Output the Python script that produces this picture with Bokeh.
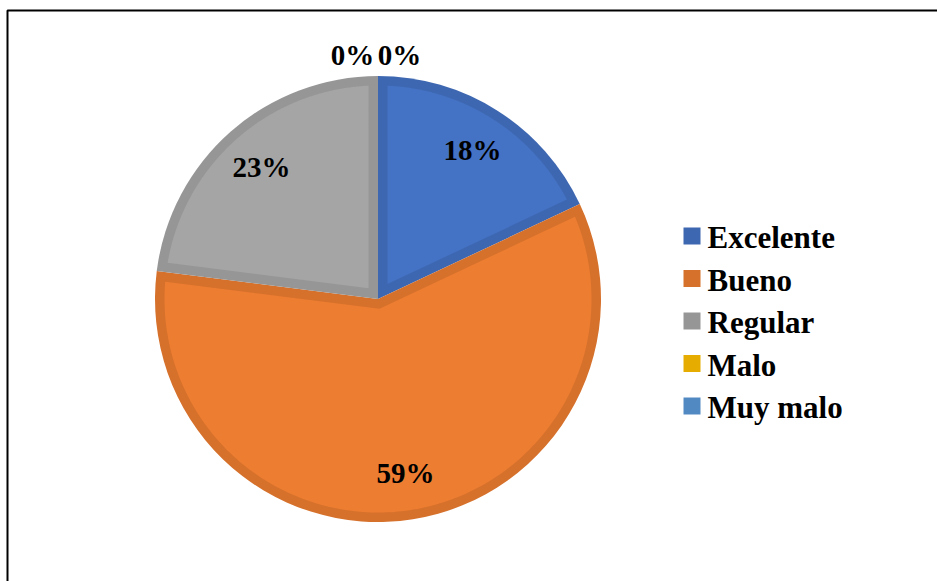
import numpy as np
from bokeh.plotting import figure
from bokeh.models import ColumnDataSource, Range1d, BoxAnnotation
from bokeh.core.properties import value
from bokeh.embed import file_html
from bokeh.resources import INLINE

# ---- data ----
categories = ["Excelente", "Bueno", "Regular", "Malo", "Muy malo"]
shares = [0.18, 0.59, 0.23, 0.0, 0.0]
labels = ["18%", "59%", "23%", "0%", "0%"]
fill_colors = ["#4472C4", "#ED7D31", "#A5A5A5", "#FFC000", "#5B9BD5"]
edge_colors = ["#3E67B1", "#D6712C", "#969696", "#E6AD00", "#5189C2"]

# ---- layout (pixels) ----
W, H = 937, 581
CX, CY = 377.5, H - 298.5
R = 223.0
BAND = 9.5
FONT = "Liberation Serif"

p = figure(width=W, height=H, output_backend="svg", toolbar_location=None,
           x_range=Range1d(0, W), y_range=Range1d(0, H),
           x_axis_location=None, y_axis_location=None, min_border=0,
           outline_line_color=None)
p.grid.visible = False
p.background_fill_color = "white"
p.border_fill_color = "white"

shares_a = np.array(shares, dtype=float)
cum = np.concatenate([[0.0], np.cumsum(shares_a)])
start = np.pi / 2 - 2 * np.pi * cum[:-1]
end = np.pi / 2 - 2 * np.pi * cum[1:]
nz = shares_a > 0

# outer (darker) wedges
wsrc = ColumnDataSource(dict(
    start=start[nz], end=end[nz],
    color=[c for c, k in zip(edge_colors, nz) if k],
))
p.wedge(x=CX, y=CY, radius=R, start_angle="start", end_angle="end",
        direction="clock", source=wsrc, fill_color="color", line_color=None)

# inner (lighter) fills, inset by the band width
xs, ys, cols = [], [], []
for a0, a1, c, k in zip(start, end, fill_colors, nz):
    if not k:
        continue
    sweep = a0 - a1
    h = sweep / 2
    bis = a0 - h
    d = BAND / np.sin(h)
    r_in = R - BAND
    delta = np.arcsin(BAND / r_in)
    arc = np.linspace(a0 - delta, a1 + delta, 200)
    px = [CX + d * np.cos(bis)] + list(CX + r_in * np.cos(arc))
    py = [CY + d * np.sin(bis)] + list(CY + r_in * np.sin(arc))
    xs.append(px)
    ys.append(py)
    cols.append(c)
p.patches(xs=xs, ys=ys, fill_color=cols, line_color=None)

# percentage labels
mid = (start + end) / 2
LR = 0.79 * R
lx, ly, lt = [], [], []
for m, t, k in zip(mid, labels, nz):
    if k:
        lx.append(CX + LR * np.cos(m))
        ly.append(CY + LR * np.sin(m))
        lt.append(t)
p.text(x=lx, y=ly, text=lt, text_font=value(FONT), text_font_style="bold",
       text_font_size="29px", text_align="center", text_baseline="middle",
       text_color="black")

# zero-share labels stacked just above the top of the pie
zt = [t for t, k in zip(labels, nz) if not k]
zoff = [-25.5 + 47 * i for i in range(len(zt))]
p.text(x=[CX] * len(zt), y=[CY + R + 21] * len(zt), text=zt, x_offset=zoff,
       text_font=value(FONT), text_font_style="bold", text_font_size="29px",
       text_align="center", text_baseline="middle", text_color="black")

# legend
LEG_X, LEG_Y0, LEG_STEP = 691.5, H - 235.5, 42.5
ly_leg = [LEG_Y0 - LEG_STEP * i for i in range(len(categories))]
p.scatter(x=[LEG_X] * len(categories), y=ly_leg, marker="square", size=17,
          fill_color=edge_colors, line_color=None)
p.text(x=[LEG_X + 15.5] * len(categories), y=[v - 1.5 for v in ly_leg],
       text=categories, text_font=value(FONT), text_font_style="bold",
       text_font_size="31px", text_align="left", text_baseline="middle",
       text_color="black")

# chart border (left and top visible)
p.add_layout(BoxAnnotation(left=7, right=W + 50, top=H - 10, bottom=-50,
                           fill_color=None, fill_alpha=0, line_color="black",
                           line_alpha=1.0, line_width=2))

open("out.html", "w").write(file_html(p, INLINE))
